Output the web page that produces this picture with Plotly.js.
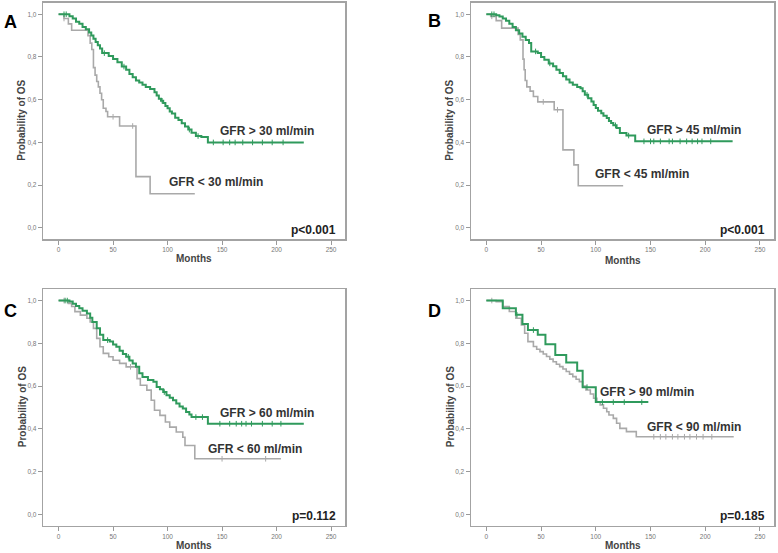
<!DOCTYPE html>
<html>
<head>
<meta charset="utf-8">
<script src="https://cdn.plot.ly/plotly-3.0.1.min.js"></script>
<style>html,body{margin:0;padding:0;background:#fff;}#chart{width:778px;height:553px;}</style>
</head>
<body>
<div id="chart"></div>
<script>
// ---------- Data (Kaplan-Meier step curves, months / survival probability) ----------
const panelLetters = ["A", "B", "C", "D"];
const pValues = ["p<0.001", "p<0.001", "p=0.112", "p=0.185"];
const hiLabels = ["GFR > 30 ml/min", "GFR > 45 ml/min", "GFR > 60 ml/min", "GFR > 90 ml/min"];
const loLabels = ["GFR < 30 ml/min", "GFR < 45 ml/min", "GFR < 60 ml/min", "GFR < 90 ml/min"];
const xTicks = [0, 50, 100, 150, 200, 250];
const yTicks = [0, 0.2, 0.4, 0.6, 0.8, 1.0];

// Panel A
const A_hi_t = [0,10,13,16,19,22,25,28,30,32,34,36,38,40,46,50,54,58,62,65,68,71,74,77,80,84,88,90,92,94,96,98,100,102,104,107,110,113,116,119,122,126,131,137,225];
const A_hi_s = [1,0.99,0.98,0.965,0.955,0.94,0.93,0.915,0.9,0.885,0.87,0.855,0.84,0.818,0.805,0.79,0.775,0.755,0.74,0.72,0.705,0.69,0.68,0.67,0.66,0.65,0.635,0.62,0.605,0.595,0.585,0.57,0.56,0.545,0.535,0.515,0.505,0.49,0.475,0.46,0.445,0.43,0.425,0.40,0.40];
const A_hi_c = [5,7,42,60,95,120,128,142,151,157,162,169,178,187,196,206];
const A_lo_t = [0,5,9,12,27,29,30.5,32,33.5,35,36.5,38,39.5,41,43.5,45,56,71,84,125];
const A_lo_s = [1,0.98,0.955,0.925,0.9,0.865,0.835,0.75,0.715,0.685,0.66,0.63,0.6,0.56,0.545,0.52,0.477,0.24,0.16,0.16];
const A_lo_c = [5,50,68];

// Panel B
const B_hi_t = [0,9,12,15,18,21,24,27,30,33,36,39,41,47,50,53,57,61,64,67,70,73,76,79,83,86,88,90,93,96,98,100,102,105,107,110,112,114,116,119,122,128,136,225];
const B_hi_s = [1,0.995,0.989,0.98,0.97,0.955,0.94,0.925,0.91,0.895,0.88,0.865,0.826,0.818,0.8,0.787,0.77,0.756,0.74,0.725,0.71,0.694,0.68,0.67,0.66,0.654,0.64,0.623,0.607,0.592,0.575,0.561,0.548,0.537,0.525,0.514,0.5,0.491,0.48,0.468,0.444,0.432,0.405,0.405];
const B_hi_c = [5,7,45,58,92,118,130,144,150,153,159,167,170,177,183,188,193,197,205];
const B_lo_t = [0,4,9,14,29,31,33.5,34.5,35.5,37,40,43,47,62,70,80,84,125];
const B_lo_s = [1,0.99,0.97,0.935,0.905,0.88,0.79,0.74,0.69,0.66,0.64,0.615,0.59,0.553,0.365,0.295,0.197,0.197];
const B_lo_c = [5,52,65];

// Panel C
const C_hi_t = [0,10,13,16,19,22,26,29,31,35,38,41,47,50,53,56,59,62,65,68,71,74,77,82,87,90,93,96,99,102,105,108,111,114,117,120,122,137,225];
const C_hi_s = [1,0.995,0.985,0.975,0.964,0.952,0.94,0.92,0.9,0.87,0.84,0.815,0.808,0.795,0.784,0.765,0.75,0.737,0.72,0.706,0.69,0.66,0.643,0.628,0.62,0.596,0.585,0.572,0.557,0.545,0.534,0.518,0.505,0.495,0.479,0.467,0.455,0.424,0.424];
const C_hi_c = [6,8,45,64,97,126,132,148,157,163,168,172,177,187,196,204];
const C_lo_t = [0,9,12,15,20,26,29,32,35,38,41,46,50,56,62,72,75,81,85,88,93,98,102,108,114,116,125,204];
const C_lo_s = [1,0.987,0.972,0.948,0.932,0.917,0.9,0.87,0.823,0.784,0.753,0.737,0.721,0.706,0.69,0.635,0.604,0.581,0.534,0.487,0.463,0.432,0.408,0.385,0.361,0.322,0.26,0.26];
const C_lo_c = [5,66,150,190];

// Panel D
const D_hi_t = [0,15,27,33,38,47,54,63,73,83,88,100,148];
const D_hi_s = [1,0.964,0.933,0.89,0.862,0.84,0.796,0.745,0.71,0.672,0.595,0.525,0.525];
const D_hi_c = [28,43,92,106,116,126,142];
const D_lo_t = [0,9,15,21,27,32,35,38,43,46,49,52,55,58,61,64,67,70,73,76,79,82,85,88,91,95,98,101,104,107,110,112,116,119,122,128,137,226];
const D_lo_s = [1,0.995,0.972,0.949,0.917,0.886,0.847,0.808,0.785,0.772,0.761,0.75,0.738,0.726,0.714,0.702,0.691,0.68,0.668,0.656,0.644,0.632,0.621,0.6,0.582,0.563,0.543,0.525,0.512,0.496,0.48,0.465,0.449,0.426,0.402,0.387,0.363,0.363];
const D_lo_c = [5,153,159,164,170,175,181,186,192,198,206];

// ---------- Styling / layout ----------
const GREEN = "#2f9a5c";
const GRAY = "#a9a9a9";
const FONT = "'Liberation Sans', Arial, sans-serif";

function stepAt(ts, ss, c) {
  let v = ss[0];
  for (let i = 0; i < ts.length; i++) { if (ts[i] <= c) v = ss[i]; }
  return v;
}

const panels = [
  {hi: [A_hi_t, A_hi_s, A_hi_c], lo: [A_lo_t, A_lo_s, A_lo_c], hiPos: [146.3, 0.455], loPos: [99.1, 0.213]},
  {hi: [B_hi_t, B_hi_s, B_hi_c], lo: [B_lo_t, B_lo_s, B_lo_c], hiPos: [145.2, 0.46], loPos: [97.8, 0.25]},
  {hi: [C_hi_t, C_hi_s, C_hi_c], lo: [C_lo_t, C_lo_s, C_lo_c], hiPos: [146.3, 0.474], loPos: [135, 0.307]},
  {hi: [D_hi_t, D_hi_s, D_hi_c], lo: [D_lo_t, D_lo_s, D_lo_c], hiPos: [101.8, 0.571], loPos: [145, 0.407]}
];

// pixel frames [x0, x1, yTop, yBottom]
const W = 778, H = 553;
const frames = [
  [43.3, 345, 2.7, 239],
  [471, 774, 2.7, 239],
  [43.3, 345, 289, 525.5],
  [471, 774, 289, 525.5]
];
const letterPos = [[1.5, 21.7], [426.5, 20.7], [1.5, 311], [426.5, 311]];
const yTitleX = [22, 450, 22, 450];
const monthsY = [258.3, 260, 545, 545.7];

const traces = [];
const layout = {
  width: W, height: H,
  margin: {l: 0, r: 0, t: 0, b: 0},
  paper_bgcolor: "#fff", plot_bgcolor: "#fff",
  showlegend: false,
  separators: ",.",
  font: {family: FONT},
  annotations: []
};

panels.forEach((p, i) => {
  const k = i === 0 ? "" : String(i + 1);
  const xa = "x" + k, ya = "y" + k;
  const f = frames[i];
  const axCommon = {
    showline: true, mirror: true, linecolor: "#a3a3a3", linewidth: 1.5,
    ticks: "outside", ticklen: 4, tickwidth: 1, tickcolor: "#999",
    tickfont: {size: 6.5, color: "#777", family: FONT},
    showgrid: false, zeroline: false, fixedrange: true
  };
  layout["xaxis" + k] = Object.assign({}, axCommon, {
    domain: [f[0] / W, f[1] / W], anchor: ya, range: [-14, 262.8],
    tickvals: xTicks, ticktext: xTicks.map(String)
  });
  layout["yaxis" + k] = Object.assign({}, axCommon, {
    domain: [1 - f[3] / H, 1 - f[2] / H], anchor: xa, range: [-0.052, 1.054],
    tickvals: yTicks, tickformat: ".1f"
  });

  // low group (gray) first, high group (green) on top (except D where gray is the big group)
  const groups = [
    {d: p.lo, color: GRAY, w: 1.6},
    {d: p.hi, color: GREEN, w: 2}
  ];
  groups.forEach(g => {
    traces.push({
      x: g.d[0], y: g.d[1], xaxis: xa, yaxis: ya, type: "scatter", mode: "lines",
      line: {shape: "hv", color: g.color, width: g.w}, hoverinfo: "skip"
    });
    traces.push({
      x: g.d[2], y: g.d[2].map(c => stepAt(g.d[0], g.d[1], c)), xaxis: xa, yaxis: ya,
      type: "scatter", mode: "markers",
      marker: {symbol: "line-ns", size: 4, line: {color: g.color, width: 1}}, hoverinfo: "skip"
    });
  });

  const lbl = {size: 12, color: "#333", family: FONT};
  layout.annotations.push(
    {xref: xa, yref: ya, x: p.hiPos[0], y: p.hiPos[1], text: "<b>" + hiLabels[i] + "</b>", showarrow: false, xanchor: "left", yanchor: "middle", font: lbl},
    {xref: xa, yref: ya, x: p.loPos[0], y: p.loPos[1], text: "<b>" + loLabels[i] + "</b>", showarrow: false, xanchor: "left", yanchor: "middle", font: lbl},
    {xref: xa, yref: ya, x: 256, y: -0.008, text: "<b>" + pValues[i] + "</b>", showarrow: false, xanchor: "right", yanchor: "middle", font: {size: 12, color: "#222", family: FONT}},
    {xref: "paper", yref: "paper", x: letterPos[i][0] / W, y: 1 - letterPos[i][1] / H, text: "<b>" + panelLetters[i] + "</b>", showarrow: false, xanchor: "left", yanchor: "middle", font: {size: 18, color: "#000", family: FONT}},
    {xref: "paper", yref: "paper", x: yTitleX[i] / W, y: 1 - ((f[2] + f[3]) / 2) / H, text: "<b>Probability of OS</b>", textangle: -90, showarrow: false, xanchor: "center", yanchor: "middle", font: {size: 10, color: "#444", family: FONT}},
    {xref: "paper", yref: "paper", x: ((f[0] + f[1]) / 2) / W, y: 1 - monthsY[i] / H, text: "<b>Months</b>", showarrow: false, xanchor: "center", yanchor: "middle", font: {size: 10, color: "#444", family: FONT}}
  );
});

Plotly.newPlot("chart", traces, layout, {staticPlot: true, displayModeBar: false});
</script>
</body>
</html>
